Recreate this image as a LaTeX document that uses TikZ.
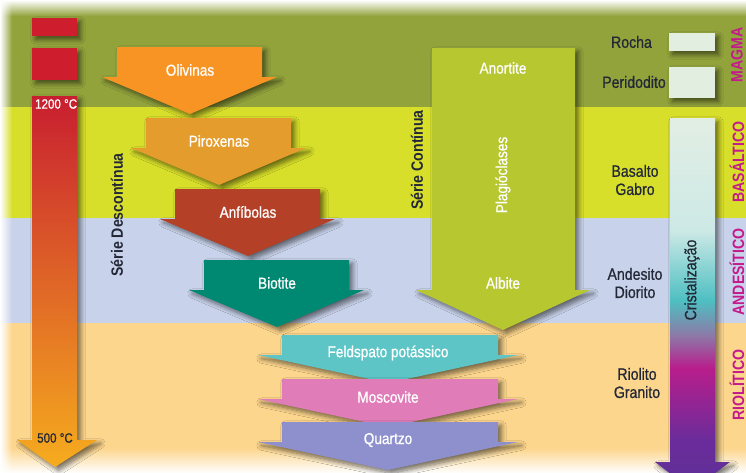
\documentclass[tikz,border=0pt]{standalone}
\usepackage{fontspec}
\setmainfont{Liberation Sans}[FakeStretch=0.86]
\newfontfamily\medfont{Liberation Sans}[FakeStretch=0.86,FakeBold=0.8]
\usetikzlibrary{shadows,shadows.blur,fadings}

\definecolor{magmabg}{RGB}{147,163,60}
\definecolor{basbg}{RGB}{216,223,42}
\definecolor{andbg}{RGB}{200,210,234}
\definecolor{riobg}{RGB}{253,214,141}
\definecolor{olivcol}{RGB}{247,148,36}
\definecolor{pirocol}{RGB}{228,156,44}
\definecolor{anficol}{RGB}{180,64,40}
\definecolor{biocol}{RGB}{0,137,114}
\definecolor{feldcol}{RGB}{94,197,198}
\definecolor{moscol}{RGB}{224,124,184}
\definecolor{quarcol}{RGB}{142,144,206}
\definecolor{plagcol}{RGB}{182,199,48}
\definecolor{boxcol}{RGB}{226,238,224}
\definecolor{thred}{RGB}{206,30,46}
\definecolor{th1}{RGB}{200,30,48}
\definecolor{th2}{RGB}{234,58,38}
\definecolor{th3}{RGB}{246,172,30}
\definecolor{inkc}{RGB}{35,40,55}
\definecolor{magc}{RGB}{196,26,140}
\definecolor{cr0}{RGB}{226,238,228}
\definecolor{cr1}{RGB}{205,233,230}
\definecolor{cr2}{RGB}{78,191,194}
\definecolor{cr3}{RGB}{140,122,168}
\definecolor{cr4}{RGB}{184,30,140}
\definecolor{cr5}{RGB}{106,44,154}
\definecolor{cr6}{RGB}{94,48,152}

\pgfdeclareverticalshading{cristal}{100bp}{color(0bp)=(cr6); color(25bp)=(cr6); color(31.7bp)=(cr5);
  color(41.4bp)=(cr4); color(45.8bp)=(cr3); color(50.5bp)=(cr2); color(59.9bp)=(cr1);
  color(75bp)=(cr0); color(100bp)=(cr0)}

\begin{document}
\begin{tikzpicture}[x=0.03cm,y=-0.03cm,
  mineral/.style={text=white,font=\medfont\fontsize{13.5}{15}\selectfont},
  rocktxt/.style={text=inkc,align=center,font=\medfont\fontsize{14}{15.5}\selectfont},
  serie/.style={text=inkc,rotate=90,font=\bfseries\fontsize{14}{16}\selectfont},
  magmalbl/.style={text=magc,rotate=90,font=\bfseries\fontsize{14}{16}\selectfont},
  sombra/.style={blur shadow={shadow xshift=3pt,shadow yshift=-3pt,shadow blur radius=4pt,
    shadow blur steps=8,shadow opacity=55}}]
\useasboundingbox (0,0) rectangle (746,473);
\clip (0,0) rectangle (746,473);

% faixas de fundo
\fill[magmabg] (0,0) rectangle (746,107);
\fill[basbg] (0,107) rectangle (746,218);
\fill[andbg] (0,218) rectangle (746,323);
\fill[riobg] (0,323) rectangle (746,473);
\fill[white,path fading=south] (0,0) rectangle (746,16);
\fill[white,path fading=east] (0,0) rectangle (12,473);
\fill[white,path fading=north] (0,448) rectangle (746,473);

% termometro
\fill[thred,sombra] (32,18) rectangle (77,36);
\fill[thred,sombra] (32,48) rectangle (77,80);
\shade[top color=th1,middle color=th2,bottom color=th3,sombra]
  (32,96) -- (77,96) -- (77,440) -- (97,440) -- (55,467) -- (17,440) -- (32,440) -- cycle;
\node[anchor=west,text=white,font=\medfont\fontsize{11.5}{13}\selectfont] (t1200) at (31,104) {1200 °C};
\node[text=inkc,font=\medfont\fontsize{11.5}{13}\selectfont] (t500) at (55,438) {500 °C};

% serie descontinua
\foreach \i/\col/\txt/\nm in {0/olivcol/Olivinas/oliv, 1/pirocol/Piroxenas/pirox,
    2/anficol/Anfíbolas/anfib, 3/biocol/Biotite/biot}{
  \pgfmathsetmacro\bx{117+29*\i}
  \pgfmathsetmacro\ty{47+71*\i}
  \fill[\col,sombra] (\bx,\ty) -- (\bx+145,\ty) -- (\bx+145,\ty+30) -- (\bx+160,\ty+30)
    -- (\bx+73,\ty+67) -- (\bx-15,\ty+30) -- (\bx,\ty+30) -- cycle;
  \node[mineral] (\nm) at (\bx+73,\ty+23) {\txt};
}
\foreach \t/\col/\txt/\nm in {335/feldcol/Feldspato potássico/feld,
    379/moscol/Moscovite/mosc, 422/quarcol/Quartzo/quartzo}{
  \fill[\col,sombra] (282,\t) -- (498,\t) -- (498,\t+20) -- (518,\t+20)
    -- (388,\t+48) -- (258,\t+20) -- (282,\t+20) -- cycle;
  \node[mineral] (\nm) at (388,\t+18) {\txt};
}
\node[serie] (descont) at (117,215) {Série Descontínua};

% serie continua
\fill[plagcol,sombra] (432,48) -- (575,48) -- (575,290) -- (590,290) -- (503,330)
  -- (416,290) -- (432,290) -- cycle;
\node[mineral] (anort) at (503,68) {Anortite};
\node[mineral,rotate=90] (plag) at (503,175) {Plagióclases};
\node[mineral] (albite) at (503,283) {Albite};
\node[serie] (cont) at (417,160) {Série Contínua};

% rochas
\fill[boxcol,sombra] (669,33) rectangle (715,51);
\fill[boxcol,sombra] (669,67) rectangle (715,98);
\node[rocktxt,anchor=east] (rocha) at (656,42) {Rocha};
\node[rocktxt] (perid) at (634,82) {Peridodito};
\node[rocktxt] (basalto) at (635,180) {Basalto\\Gabro};
\node[rocktxt] (andes) at (635,283) {Andesito\\Diorito};
\node[rocktxt] (riol) at (637,383) {Riolito\\Granito};

\shade[shading=cristal,sombra] (670,118) -- (715,118) -- (715,462) -- (730,462)
  -- (692,490) -- (655,462) -- (670,462) -- cycle;
\node[rocktxt,rotate=90] (crist) at (692,280) {Cristalização};

\node[magmalbl] (magma) at (737,55) {MAGMA};
\node[magmalbl] (basal) at (737,162) {BASÁLTICO};
\node[magmalbl] (andesit) at (737,272) {ANDESÍTICO};
\node[magmalbl] (riolit) at (737,385) {RIOLÍTICO};
\end{tikzpicture}
\end{document}
